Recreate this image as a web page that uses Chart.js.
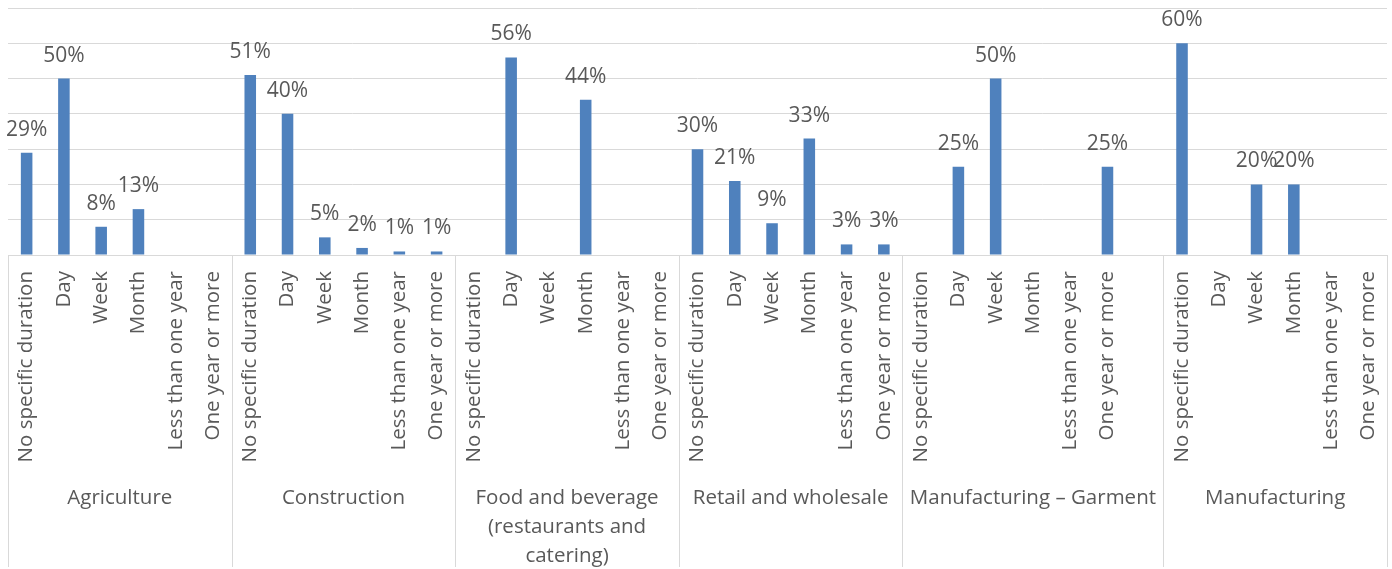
<!DOCTYPE html>
<html>
<head>
<meta charset="utf-8">
<script src="https://cdn.jsdelivr.net/npm/chart.js"></script>
<style>
  html, body { margin: 0; padding: 0; background: #fff; }
  #wrap { width: 1392px; height: 569px; position: relative; }
</style>
</head>
<body>
<div id="wrap"><canvas id="durationChart"></canvas></div>
<script>
// categories
const durations = ['No specific duration', 'Day', 'Week', 'Month', 'Less than one year', 'One year or more'];
const sectors = ['Agriculture', 'Construction', ['Food and beverage', '(restaurants and', 'catering)'],
    'Retail and wholesale', 'Manufacturing – Garment', 'Manufacturing'];
// garment group has an extra blank slot at the end
const garmentDurations = [...durations, ''];

// values in % (null = no answer)
const agriculture = [29, 50, 8, 13, null, null];
const construction = [51, 40, 5, 2, 1, 1];
const foodBeverage = [null, 56, null, 44, null, null];
const retailWholesale = [30, 21, 9, 33, 3, 3];
const garment = [null, 25, 50, null, null, 25, null];
const manufacturing = [60, null, 20, 20, null, null];

const yTicks = [0, 10, 20, 30, 40, 50, 60, 70];

const groupValues = [agriculture, construction, foodBeverage, retailWholesale, garment, manufacturing];
const groupLabels = [durations, durations, durations, durations, garmentDurations, durations];

var labels = [];
var values = [];
var groupSizes = [];
for (let g = 0; g < groupValues.length; g++) {
    labels = labels.concat(groupLabels[g]);
    values = values.concat(groupValues[g]);
    groupSizes.push(groupLabels[g].length);
}

const textColor = '#595959';
const lineColor = '#d9d9d9';
const fontFamily = '"Open Sans", "Liberation Sans", sans-serif';

// percentages above the bars
const barLabels = {
    id: 'barLabels',
    afterDatasetsDraw(chart) {
        const ctx = chart.ctx;
        const meta = chart.getDatasetMeta(0);
        ctx.save();
        ctx.font = '21px ' + fontFamily;
        ctx.fillStyle = textColor;
        ctx.textAlign = 'center';
        ctx.textBaseline = 'alphabetic';
        meta.data.forEach((bar, i) => {
            if (values[i] == null) return;
            ctx.fillText(values[i] + '%', bar.x, bar.y - 17);
        });
        ctx.restore();
    }
};

// second level of the category axis (sector names + separators)
const sectorAxis = {
    id: 'sectorAxis',
    afterDraw(chart) {
        const ctx = chart.ctx;
        const xs = chart.scales.x;
        const area = chart.chartArea;
        const step = xs.getPixelForValue(1) - xs.getPixelForValue(0);
        ctx.save();
        ctx.strokeStyle = lineColor;
        ctx.lineWidth = 1;
        ctx.font = '20.5px ' + fontFamily;
        ctx.fillStyle = textColor;
        ctx.textAlign = 'center';
        ctx.textBaseline = 'middle';
        let start = 0;
        for (let g = 0; g < groupSizes.length; g++) {
            let left = xs.getPixelForValue(start) - step / 2;
            let right = xs.getPixelForValue(start + groupSizes[g] - 1) + step / 2;
            let edges = g == groupSizes.length - 1 ? [left, right] : [left];
            edges.forEach(e => {
                let px = Math.round(e) + 0.5;
                ctx.beginPath();
                ctx.moveTo(px, area.bottom);
                ctx.lineTo(px, chart.height - 2);
                ctx.stroke();
            });
            let name = Array.isArray(sectors[g]) ? sectors[g] : [sectors[g]];
            name.forEach((line, k) => {
                ctx.fillText(line, (left + right) / 2, area.bottom + 243 + k * 29);
            });
            start += groupSizes[g];
        }
        ctx.restore();
    }
};

new Chart(document.getElementById('durationChart'), {
    type: 'bar',
    data: {
        labels: labels,
        datasets: [{
            data: values,
            backgroundColor: '#4f81bd',
            barPercentage: 0.31,
            categoryPercentage: 1
        }]
    },
    options: {
        responsive: true,
        maintainAspectRatio: false,
        animation: false,
        layout: { padding: { top: 8, left: 8, right: 5, bottom: 0 } },
        plugins: {
            legend: { display: false },
            tooltip: { enabled: false }
        },
        scales: {
            x: {
                grid: { display: false },
                border: { display: true, color: lineColor },
                ticks: {
                    autoSkip: false,
                    minRotation: 90,
                    maxRotation: 90,
                    padding: 8,
                    color: textColor,
                    font: { size: 20.5, family: fontFamily }
                },
                afterFit: function (scale) {
                    scale.height = 314;
                    scale.paddingLeft = 0;
                    scale.paddingRight = 0;
                }
            },
            y: {
                min: yTicks[0],
                max: yTicks[yTicks.length - 1],
                afterBuildTicks: function (scale) { scale.ticks = yTicks.map(v => ({ value: v })); },
                ticks: { display: false },
                grid: { color: lineColor, drawTicks: false },
                border: { display: false }
            }
        }
    },
    plugins: [barLabels, sectorAxis]
});
</script>
</body>
</html>
